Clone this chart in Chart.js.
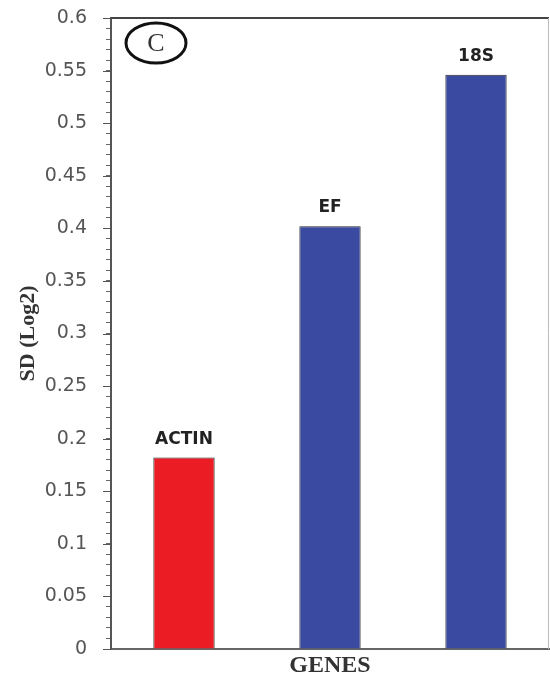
<!DOCTYPE html>
<html lang="en">
<head>
    <meta charset="UTF-8">
    <title>SD (Log2) - GENES</title>
    <script src="https://cdn.jsdelivr.net/npm/chart.js"></script>
</head>
<style>
    body{
        margin: 0;
        background: #fff;
    }
    #chartBox{
        width: 550px;
        height: 677px;
    }
</style>
<body>
    <div id="chartBox">
        <canvas id="BarChartCanvas" width="550" height="677"></canvas>
    </div>
    <script>
        // data
        var genes = ['ACTIN', 'EF', '18S'];
        var sdValues = [0.182, 0.402, 0.546];
        var barColors = ['#ec1c24', '#3a4aa0', '#3a4aa0'];
        var yMin = 0;
        var yMax = 0.6;
        var yMinorStep = 0.01;
        var yMajorStep = 0.05;
        var panelLetter = 'C';

        // labels above each bar
        var barLabelPlugin = {
            id: 'barLabels',
            afterDatasetsDraw: function(chart) {
                var ctx = chart.ctx;
                var meta = chart.getDatasetMeta(0);
                ctx.save();
                ctx.font = 'bold 17px "DejaVu Sans"';
                ctx.fillStyle = '#222';
                ctx.textAlign = 'center';
                ctx.textBaseline = 'alphabetic';
                meta.data.forEach(function(bar, i) {
                    ctx.fillText(genes[i], bar.x, bar.y - 14);
                });
                ctx.restore();
            }
        };

        // top/right frame, longer major ticks and the circled panel letter
        var framePlugin = {
            id: 'frame',
            afterDraw: function(chart) {
                var ctx = chart.ctx;
                var area = chart.chartArea;
                var yScale = chart.scales.y;
                ctx.save();
                ctx.strokeStyle = '#444';
                ctx.lineWidth = 2;
                ctx.beginPath();
                ctx.moveTo(area.left, area.top);
                ctx.lineTo(area.right, area.top);
                ctx.stroke();
                ctx.strokeStyle = '#bbb';
                ctx.lineWidth = 1;
                ctx.beginPath();
                ctx.moveTo(area.right - 0.5, area.top);
                ctx.lineTo(area.right - 0.5, area.bottom);
                ctx.stroke();

                ctx.strokeStyle = '#555';
                ctx.lineWidth = 1;
                for (var v = yMin; v <= yMax + 1e-9; v += yMajorStep) {
                    var py = Math.round(yScale.getPixelForValue(v)) + 0.5;
                    ctx.beginPath();
                    ctx.moveTo(area.left - 8, py);
                    ctx.lineTo(area.left, py);
                    ctx.stroke();
                }

                var cx = area.left + 45;
                var cy = area.top + 25;
                ctx.strokeStyle = '#111';
                ctx.lineWidth = 3;
                ctx.beginPath();
                ctx.ellipse(cx, cy, 30, 20, 0, 0, Math.PI * 2);
                ctx.stroke();
                ctx.fillStyle = '#333';
                ctx.font = '26px "Liberation Serif"';
                ctx.textAlign = 'center';
                ctx.textBaseline = 'middle';
                ctx.fillText(panelLetter, cx, cy + 1);
                ctx.restore();
            }
        };

        function generateChart() {
            var ctx = document.getElementById('BarChartCanvas').getContext('2d');
            window.myChart = new Chart(ctx, {
                type: 'bar',
                data: {
                    labels: genes,
                    datasets: [{
                        data: sdValues,
                        backgroundColor: barColors,
                        borderColor: '#2a2a2a',
                        borderWidth: 1,
                        categoryPercentage: 1,
                        barPercentage: 0.42
                    }]
                },
                options: {
                    responsive: false,
                    animation: false,
                    layout: {
                        padding: {top: 18, right: 1, left: 0, bottom: 0}
                    },
                    plugins: {
                        legend: {display: false},
                        tooltip: {enabled: false}
                    },
                    scales: {
                        x: {
                            grid: {display: false},
                            border: {display: true, color: '#666', width: 2},
                            ticks: {display: false},
                            title: {
                                display: true,
                                text: 'GENES',
                                color: '#333',
                                padding: 0,
                                font: {family: 'Liberation Serif', size: 24, weight: 'bold', lineHeight: 0.9}
                            },
                            afterFit: function(scale) {
                                scale.height = 28;
                                scale.paddingLeft = 0;
                                scale.paddingRight = 0;
                            }
                        },
                        y: {
                            min: yMin,
                            max: yMax,
                            grid: {
                                display: true,
                                drawOnChartArea: false,
                                drawTicks: true,
                                tickLength: 5,
                                tickColor: '#666',
                                lineWidth: 1
                            },
                            border: {display: true, color: '#555', width: 2},
                            ticks: {
                                stepSize: yMinorStep,
                                autoSkip: false,
                                padding: 19,
                                color: '#555',
                                font: {family: 'DejaVu Sans', size: 19},
                                callback: function(value) {
                                    var hundredths = Math.round(value * 100);
                                    if (hundredths % 5 !== 0) {
                                        return '';
                                    }
                                    return String(parseFloat((hundredths / 100).toFixed(2)));
                                }
                            },
                            title: {
                                display: true,
                                text: 'SD (Log2)',
                                color: '#333',
                                padding: {top: 15, bottom: 0},
                                font: {family: 'Liberation Serif', size: 22, weight: 'bold', lineHeight: 1.2}
                            },
                            afterFit: function(scale) {
                                scale.width = 111;
                                scale.paddingTop = 0;
                                scale.paddingBottom = 0;
                            }
                        }
                    }
                },
                plugins: [barLabelPlugin, framePlugin]
            });
        }

        document.addEventListener('DOMContentLoaded', function () {
            generateChart();
        });
    </script>
</body>
</html>
